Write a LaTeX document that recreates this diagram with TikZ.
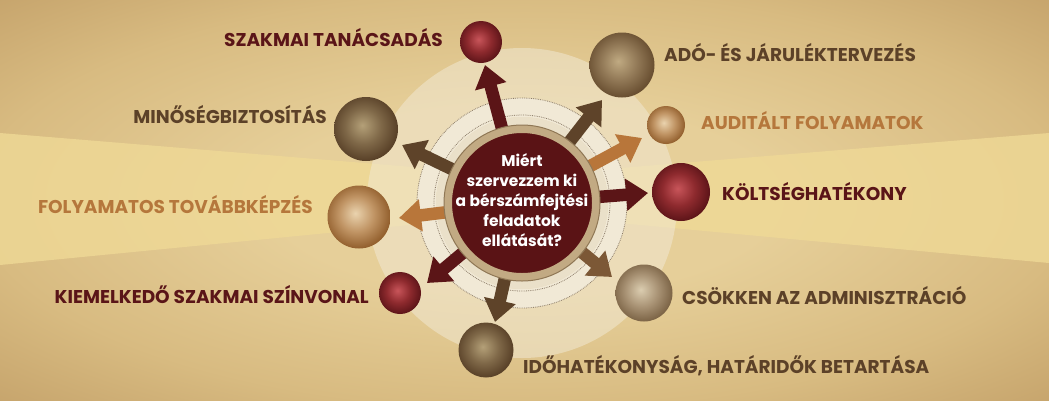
\documentclass[tikz,border=0pt]{standalone}
\usepackage{fontspec}
\setmainfont{Poppins}
\usetikzlibrary{arrows.meta}
\definecolor{bgc}{HTML}{E6CF99}
\definecolor{bgm}{HTML}{D8BB81}
\definecolor{bge}{HTML}{C6A46C}
\definecolor{beam}{HTML}{EFD996}
\definecolor{pale}{HTML}{F1E8D2}
\definecolor{band}{HTML}{F1E9D6}
\definecolor{dotc}{HTML}{8C7C68}
\definecolor{ringc}{HTML}{C2AA83}
\definecolor{ringd}{HTML}{8F7755}
\definecolor{disc}{HTML}{5A1315}
\definecolor{amar}{HTML}{5B1517}
\definecolor{abrn}{HTML}{5E4329}
\definecolor{alig}{HTML}{7C5836}
\definecolor{acop}{HTML}{B8763A}
\definecolor{tmar}{HTML}{5A1518}
\definecolor{tbrn}{HTML}{5C4128}
\definecolor{tcop}{HTML}{B5773C}
% ball colours
\definecolor{mh}{HTML}{C8555A}\definecolor{mm}{HTML}{8E2A2E}\definecolor{md}{HTML}{5E1519}
\definecolor{dh}{HTML}{B4A078}\definecolor{dm}{HTML}{7F6848}\definecolor{dd}{HTML}{594128}
\definecolor{bh}{HTML}{C0AA82}\definecolor{bm}{HTML}{917856}\definecolor{bd}{HTML}{694F31}
\definecolor{lh}{HTML}{DBCDB0}\definecolor{lm}{HTML}{AA9476}\definecolor{ld}{HTML}{7D6547}
\definecolor{ch}{HTML}{EAD3AE}\definecolor{cm}{HTML}{C09464}\definecolor{cd}{HTML}{93602E}
\pgfdeclareradialshading{bgshade}{\pgfpoint{0bp}{0bp}}{color(0bp)=(bgc); color(12bp)=(bgc); color(26bp)=(bgm); color(36bp)=(bge); color(50bp)=(bge)}
\pgfdeclareradialshading{ballM}{\pgfpoint{-3bp}{3bp}}{color(0bp)=(mh); color(14bp)=(mm); color(26bp)=(md); color(50bp)=(md)}
\pgfdeclareradialshading{ballD}{\pgfpoint{-3bp}{3bp}}{color(0bp)=(dh); color(14bp)=(dm); color(26bp)=(dd); color(50bp)=(dd)}
\pgfdeclareradialshading{ballB}{\pgfpoint{-3bp}{3bp}}{color(0bp)=(bh); color(14bp)=(bm); color(26bp)=(bd); color(50bp)=(bd)}
\pgfdeclareradialshading{ballL}{\pgfpoint{-3bp}{3bp}}{color(0bp)=(lh); color(14bp)=(lm); color(26bp)=(ld); color(50bp)=(ld)}
\pgfdeclareradialshading{ballC}{\pgfpoint{-3bp}{3bp}}{color(0bp)=(ch); color(14bp)=(cm); color(26bp)=(cd); color(50bp)=(cd)}
\pgfdeclarelayer{back}\pgfdeclarelayer{mid}
\pgfsetlayers{back,mid,main}
\tikzset{
  ball/.style={circle, inner sep=0pt, minimum size=#1},
  lbl/.style={font=\bfseries\fontsize{18.5}{20}\selectfont, inner sep=0pt},
  blockarr/.style={line width=12.5pt, draw=#1, -{Triangle[width=31pt,length=22pt,fill=#1]}, shorten <=-10pt},
}
\begin{document}
\begin{tikzpicture}[x=1pt,y=-1pt]
\useasboundingbox (0,0) rectangle (1049,400);
% centre disc
\node[circle, inner sep=0pt, minimum size=148pt, fill=disc, draw=ringc, line width=8pt] (q) at (522,203) {};
\draw[ringd, line width=1pt] (q.center) circle (78);
\node[text=white, align=center, inner sep=0pt, font=\bfseries\fontsize{15.5}{19.8}\selectfont] (qt) at (522,200)
      {Miért\\szervezzem ki\\a bérszámfejtési\\feladatok\\ellátását?};
% background
\begin{pgfonlayer}{back}
  \shade[shading=bgshade] (0,0) rectangle (1049,400);
  \fill[beam, opacity=.8] (0,133) -- (522,176) -- (1049,133) -- (1049,263) -- (522,214) -- (0,265) -- cycle;
  \fill[pale, opacity=.55] (q.center) circle (155);
  \fill[band, even odd rule] (q.center) circle (105) (q.center) circle (86);
  \fill[band!85!ringc] (q.center) circle (86);
  \draw[dotc, densely dotted, line width=.8pt] (q.center) circle (105);
  \draw[dotc, densely dotted, line width=.8pt] (q.center) circle (88);
\end{pgfonlayer}
% balls
\node[ball=42pt, shading=ballM] (b1) at (481,42) {};
\node[ball=65pt, shading=ballB] (b2) at (622,65) {};
\node[ball=38pt, shading=ballC] (b3) at (666,125) {};
\node[ball=58pt, shading=ballM] (b4) at (681,192) {};
\node[ball=57pt, shading=ballL] (b5) at (644,293) {};
\node[ball=55pt, shading=ballD] (b6) at (486,350) {};
\node[ball=42pt, shading=ballM] (b7) at (400,293) {};
\node[ball=63pt, shading=ballC] (b8) at (359,217) {};
\node[ball=64pt, shading=ballD] (b9) at (366,129) {};
% arrow tips
\coordinate (t1) at (485,65);
\coordinate (t2) at (602,100);
\coordinate (t3) at (642,138);
\coordinate (t4) at (648,193);
\coordinate (t5) at (612,277);
\coordinate (t6) at (495,322);
\coordinate (t7) at (427,283);
\coordinate (t8) at (399,218);
\coordinate (t9) at (402,145);
\begin{pgfonlayer}{mid}
  \draw[blockarr=amar] (q) -- (t1);
  \draw[blockarr=abrn] (q) -- (t2);
  \draw[blockarr=acop] (q) -- (t3);
  \draw[blockarr=amar] (q) -- (t4);
  \draw[blockarr=alig] (q) -- (t5);
  \draw[blockarr=abrn] (q) -- (t6);
  \draw[blockarr=amar] (q) -- (t7);
  \draw[blockarr=acop] (q) -- (t8);
  \draw[blockarr=abrn] (q) -- (t9);
\end{pgfonlayer}
% labels
\node[lbl, text=tmar, anchor=base east] (l1) at (443,46.5) {SZAKMAI TANÁCSADÁS};
\node[lbl, text=tbrn, anchor=base east] (l2) at (327,123.5) {MINŐSÉGBIZTOSÍTÁS};
\node[lbl, text=tcop, anchor=base east] (l3) at (313,213.5) {FOLYAMATOS TOVÁBBKÉPZÉS};
\node[lbl, text=tmar, anchor=base east] (l4) at (369,303.5) {KIEMELKEDŐ SZAKMAI SZÍNVONAL};
\node[lbl, text=tbrn, anchor=base west] (r1) at (664,61.5) {ADÓ- ÉS JÁRULÉKTERVEZÉS};
\node[lbl, text=tcop, anchor=base west] (r2) at (701,129.5) {AUDITÁLT FOLYAMATOK};
\node[lbl, text=tmar, anchor=base west] (r3) at (722,200.5) {KÖLTSÉGHATÉKONY};
\node[lbl, text=tbrn, anchor=base west] (r4) at (682,304.5) {CSÖKKEN AZ ADMINISZTRÁCIÓ};
\node[lbl, text=tbrn, anchor=base west] (r5) at (523,373.5) {IDŐHATÉKONYSÁG, HATÁRIDŐK BETARTÁSA};
\end{tikzpicture}
\end{document}
